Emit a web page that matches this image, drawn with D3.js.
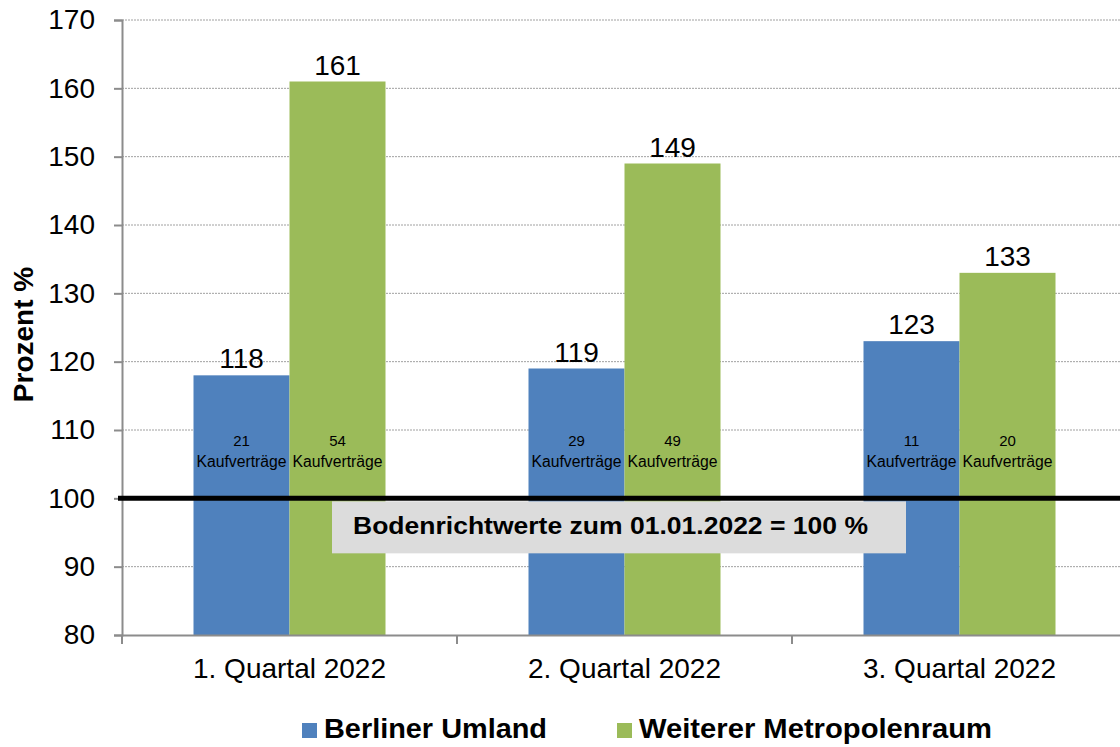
<!DOCTYPE html>
<head>
  <meta charset="utf-8">
  <script src="https://cdn.jsdelivr.net/npm/d3@7"></script>
  <style>
    body { margin: 0; background: white; }
    text { font-family: "Liberation Sans", Arial, sans-serif; }
  </style>
</head>
<body>
  <div id="chartDiv"></div>
  <script>

  var quarters = ["1. Quartal 2022", "2. Quartal 2022", "3. Quartal 2022"];
  var seriesNames = ["Berliner Umland", "Weiterer Metropolenraum"];
  var umland = [118, 119, 123];
  var metropol = [161, 149, 133];
  var umlandCount = [21, 29, 11];
  var metropolCount = [54, 49, 20];
  var yTicks = [80, 90, 100, 110, 120, 130, 140, 150, 160, 170];
  var colors = ["#4f81bd", "#9bbb59"];

  var width = 1120;
  var height = 747;
  var plotLeft = 122, plotRight = 1127, plotTop = 20, plotBottom = 635;

  var svg = d3.select("#chartDiv").append("svg")
    .attr("width", width)
    .attr("height", height);

  var x = d3.scaleBand()
    .domain(quarters)
    .range([plotLeft, plotRight]);

  var y = d3.scaleLinear()
    .domain([80, 170])
    .range([plotBottom, plotTop]);

  var barWidth = 96;

  // gridlines
  svg.append("g").selectAll("line")
    .data(yTicks.slice(1))
    .enter().append("line")
    .attr("x1", plotLeft)
    .attr("x2", width)
    .attr("y1", function(d) { return y(d); })
    .attr("y2", function(d) { return y(d); })
    .style("stroke", "#a0a0a0")
    .style("stroke-width", 1)
    .style("stroke-dasharray", "2,1");

  var rows = quarters.map(function(q, i) {
    return { q: q, vals: [umland[i], metropol[i]], counts: [umlandCount[i], metropolCount[i]] };
  });

  var groups = svg.append("g").selectAll("g")
    .data(rows)
    .enter().append("g");

  groups.each(function(d) {
    var g = d3.select(this);
    var c = x(d.q) + x.bandwidth() / 2;
    d.vals.forEach(function(v, j) {
      var bx = c - barWidth + j * barWidth;
      g.append("rect")
        .attr("x", bx)
        .attr("y", y(v))
        .attr("width", barWidth)
        .attr("height", y(80) - y(v))
        .style("fill", colors[j]);
      g.append("text")
        .attr("x", bx + barWidth / 2)
        .attr("y", y(v) - 7)
        .attr("text-anchor", "middle")
        .style("font-size", "28px")
        .style("fill", "#000")
        .text(v);
      g.append("text")
        .attr("x", bx + barWidth / 2)
        .attr("y", 446)
        .attr("text-anchor", "middle")
        .style("font-size", "15px")
        .text(d.counts[j]);
      g.append("text")
        .attr("x", bx + barWidth / 2)
        .attr("y", 467)
        .attr("text-anchor", "middle")
        .attr("textLength", 90)
        .attr("lengthAdjust", "spacingAndGlyphs")
        .style("font-size", "16px")
        .text("Kaufverträge");
    });
  });

  // y axis
  var yAxis = svg.append("g")
    .attr("transform", "translate(" + plotLeft + ",0)")
    .call(d3.axisLeft(y).tickValues(yTicks).tickSize(8).tickPadding(19));
  yAxis.select(".domain").style("stroke", "#8c8c8c").style("stroke-width", 2);
  yAxis.selectAll(".tick line").style("stroke", "#8c8c8c").style("stroke-width", 2);
  yAxis.selectAll("text")
    .style("font-size", "28px")
    .style("font-family", "Liberation Sans, Arial, sans-serif")
    .style("fill", "#000");

  // x axis
  var xAxis = svg.append("g")
    .attr("transform", "translate(0," + plotBottom + ")")
    .call(d3.axisBottom(x).tickSize(0).tickPadding(23));
  xAxis.select(".domain").style("stroke", "#8c8c8c").style("stroke-width", 2);
  xAxis.selectAll("text")
    .style("font-size", "28px")
    .style("font-family", "Liberation Sans, Arial, sans-serif")
    .style("fill", "#000");
  svg.append("g").selectAll("line")
    .data([plotLeft, plotLeft + x.step(), plotLeft + 2 * x.step()])
    .enter().append("line")
    .attr("x1", function(d) { return d; })
    .attr("x2", function(d) { return d; })
    .attr("y1", plotBottom)
    .attr("y2", plotBottom + 9)
    .style("stroke", "#8c8c8c")
    .style("stroke-width", 2);

  // reference line at 100
  svg.append("line")
    .attr("x1", 118)
    .attr("x2", width)
    .attr("y1", y(100))
    .attr("y2", y(100))
    .style("stroke", "#000")
    .style("stroke-width", 5);

  svg.append("rect")
    .attr("x", 332)
    .attr("y", y(100) + 3)
    .attr("width", 574)
    .attr("height", 52)
    .style("fill", "#dcdcdc");
  svg.append("text")
    .attr("x", 353)
    .attr("y", y(100) + 36)
    .attr("textLength", 515)
    .attr("lengthAdjust", "spacingAndGlyphs")
    .style("font-size", "24px")
    .style("font-weight", "bold")
    .text("Bodenrichtwerte zum 01.01.2022 = 100 %");

  // y title
  svg.append("text")
    .attr("transform", "translate(33," + ((plotTop + plotBottom) / 2 + 7) + ") rotate(-90)")
    .attr("text-anchor", "middle")
    .style("font-size", "28px")
    .style("font-weight", "bold")
    .text("Prozent %");

  // legend
  var legendX = [302, 617];
  var legendW = [223, 353];
  var legend = svg.append("g").selectAll("g")
    .data(seriesNames)
    .enter().append("g")
    .attr("transform", function(d, i) { return "translate(" + legendX[i] + ",723)"; });
  legend.append("rect")
    .attr("width", 15)
    .attr("height", 15)
    .style("fill", function(d, i) { return colors[i]; });
  legend.append("text")
    .attr("x", 22)
    .attr("y", 15)
    .attr("textLength", function(d, i) { return legendW[i]; })
    .attr("lengthAdjust", "spacingAndGlyphs")
    .style("font-size", "28px")
    .style("font-weight", "bold")
    .text(function(d) { return d; });

  </script>
</body>
